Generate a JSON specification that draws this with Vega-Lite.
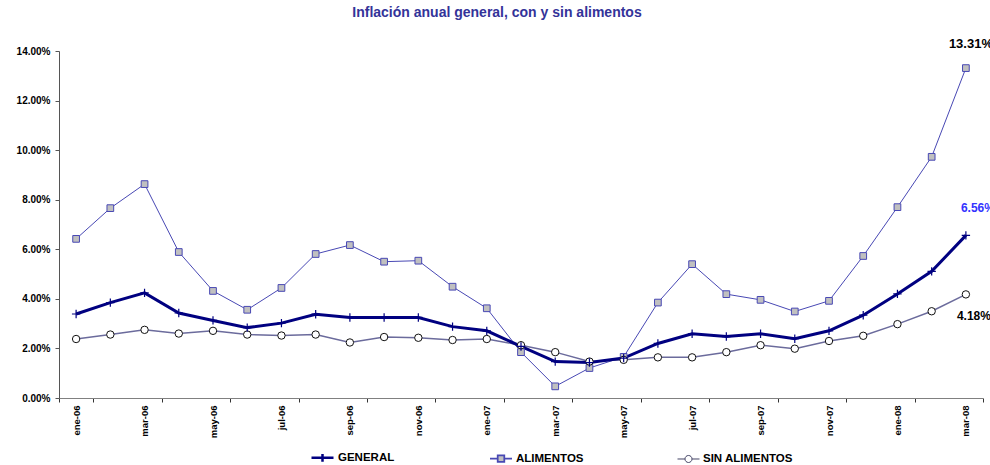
{
  "$schema": "https://vega.github.io/schema/vega-lite/v6.json",
  "autosize": {"type": "none"},
  "width": 924,
  "height": 347,
  "padding": {"left": 59, "top": 51, "right": 7, "bottom": 67},
  "background": "white",
  "title": {
    "text": "Inflación anual general, con y sin alimentos",
    "font": "Liberation Sans",
    "fontSize": 14,
    "fontWeight": "bold",
    "color": "#333399",
    "anchor": "middle",
    "frame": "group",
    "offset": 18,
    "dx": -24
  },
  "config": {
    "view": {"stroke": null},
    "legend": {
      "direction": "horizontal",
      "symbolSize": 484,
      "labelFont": "Liberation Sans",
      "labelFontSize": 11.5,
      "labelFontWeight": "bold",
      "labelColor": "black",
      "columnPadding": 91,
      "labelOffset": 3,
      "padding": 0
    }
  },
  "datasets": {
    "general": [
      {"mes": "ene-06", "valor": 3.39}, {"mes": "feb-06", "valor": 3.85}, {"mes": "mar-06", "valor": 4.24},
      {"mes": "abr-06", "valor": 3.43}, {"mes": "may-06", "valor": 3.13}, {"mes": "jun-06", "valor": 2.84},
      {"mes": "jul-06", "valor": 3.02}, {"mes": "ago-06", "valor": 3.38}, {"mes": "sep-06", "valor": 3.25},
      {"mes": "oct-06", "valor": 3.25}, {"mes": "nov-06", "valor": 3.25}, {"mes": "dic-06", "valor": 2.88},
      {"mes": "ene-07", "valor": 2.71}, {"mes": "feb-07", "valor": 2.08}, {"mes": "mar-07", "valor": 1.47},
      {"mes": "abr-07", "valor": 1.43}, {"mes": "may-07", "valor": 1.61}, {"mes": "jun-07", "valor": 2.20},
      {"mes": "jul-07", "valor": 2.59}, {"mes": "ago-07", "valor": 2.48}, {"mes": "sep-07", "valor": 2.59},
      {"mes": "oct-07", "valor": 2.39}, {"mes": "nov-07", "valor": 2.71}, {"mes": "dic-07", "valor": 3.34},
      {"mes": "ene-08", "valor": 4.20}, {"mes": "feb-08", "valor": 5.11}, {"mes": "mar-08", "valor": 6.56}
    ],
    "alimentos": [
      {"mes": "ene-06", "valor": 6.42}, {"mes": "feb-06", "valor": 7.66}, {"mes": "mar-06", "valor": 8.63},
      {"mes": "abr-06", "valor": 5.89}, {"mes": "may-06", "valor": 4.32}, {"mes": "jun-06", "valor": 3.56},
      {"mes": "jul-06", "valor": 4.44}, {"mes": "ago-06", "valor": 5.81}, {"mes": "sep-06", "valor": 6.17},
      {"mes": "oct-06", "valor": 5.50}, {"mes": "nov-06", "valor": 5.54}, {"mes": "dic-06", "valor": 4.49},
      {"mes": "ene-07", "valor": 3.62}, {"mes": "feb-07", "valor": 1.85}, {"mes": "mar-07", "valor": 0.47},
      {"mes": "abr-07", "valor": 1.21}, {"mes": "may-07", "valor": 1.66}, {"mes": "jun-07", "valor": 3.85},
      {"mes": "jul-07", "valor": 5.40}, {"mes": "ago-07", "valor": 4.19}, {"mes": "sep-07", "valor": 3.96},
      {"mes": "oct-07", "valor": 3.49}, {"mes": "nov-07", "valor": 3.92}, {"mes": "dic-07", "valor": 5.73},
      {"mes": "ene-08", "valor": 7.70}, {"mes": "feb-08", "valor": 9.73}, {"mes": "mar-08", "valor": 13.31}
    ],
    "sin": [
      {"mes": "ene-06", "valor": 2.38}, {"mes": "feb-06", "valor": 2.56}, {"mes": "mar-06", "valor": 2.75},
      {"mes": "abr-06", "valor": 2.60}, {"mes": "may-06", "valor": 2.71}, {"mes": "jun-06", "valor": 2.56},
      {"mes": "jul-06", "valor": 2.52}, {"mes": "ago-06", "valor": 2.56}, {"mes": "sep-06", "valor": 2.24},
      {"mes": "oct-06", "valor": 2.46}, {"mes": "nov-06", "valor": 2.43}, {"mes": "dic-06", "valor": 2.34},
      {"mes": "ene-07", "valor": 2.38}, {"mes": "feb-07", "valor": 2.13}, {"mes": "mar-07", "valor": 1.85},
      {"mes": "abr-07", "valor": 1.47}, {"mes": "may-07", "valor": 1.54}, {"mes": "jun-07", "valor": 1.64},
      {"mes": "jul-07", "valor": 1.64}, {"mes": "ago-07", "valor": 1.85}, {"mes": "sep-07", "valor": 2.13},
      {"mes": "oct-07", "valor": 1.99}, {"mes": "nov-07", "valor": 2.30}, {"mes": "dic-07", "valor": 2.51},
      {"mes": "ene-08", "valor": 2.98}, {"mes": "feb-08", "valor": 3.50}, {"mes": "mar-08", "valor": 4.18}
    ]
  },
  "encoding": {
    "x": {
      "field": "mes",
      "type": "ordinal",
      "scale": {
        "type": "band",
        "paddingInner": 0,
        "paddingOuter": 0,
        "domain": ["ene-06","feb-06","mar-06","abr-06","may-06","jun-06","jul-06","ago-06","sep-06","oct-06","nov-06","dic-06",
                   "ene-07","feb-07","mar-07","abr-07","may-07","jun-07","jul-07","ago-07","sep-07","oct-07","nov-07","dic-07",
                   "ene-08","feb-08","mar-08"]
      },
      "axis": {
        "title": null,
        "values": ["ene-06","mar-06","may-06","jul-06","sep-06","nov-06","ene-07","mar-07","may-07","jul-07","sep-07","nov-07","ene-08","mar-08"],
        "tickBand": "extent",
        "labelAngle": -90,
        "labelFont": "Liberation Sans",
        "labelFontSize": 9.5,
        "labelFontWeight": "bold",
        "labelColor": "black",
        "labelPadding": 3,
        "domainColor": "#808080",
        "tickColor": "#333333",
        "tickSize": 4,
        "grid": false
      }
    },
    "y": {
      "field": "valor",
      "type": "quantitative",
      "scale": {"domain": [0, 14], "nice": false},
      "axis": {
        "title": null,
        "values": [0, 2, 4, 6, 8, 10, 12, 14],
        "labelExpr": "format(datum.value, '.2f') + '%'",
        "labelFont": "Liberation Sans",
        "labelFontSize": 10,
        "labelFontWeight": "bold",
        "labelColor": "black",
        "labelPadding": 5,
        "domainColor": "#555555",
        "tickColor": "#555555",
        "tickSize": 4,
        "grid": false
      }
    }
  },
  "layer": [
    {"data": {"name": "alimentos"}, "mark": {"type": "line", "color": "#4848b4", "strokeWidth": 1}},
    {"data": {"name": "sin"}, "mark": {"type": "line", "color": "#6b6b9c", "strokeWidth": 1.5}},
    {"data": {"name": "general"}, "mark": {"type": "line", "color": "#000080", "strokeWidth": 3}},
    {"data": {"name": "alimentos"}, "mark": {"type": "point", "shape": "square", "size": 45, "filled": true, "fill": "#c0c0c0", "stroke": "#4848b4", "strokeWidth": 1, "opacity": 1}},
    {"data": {"name": "sin"}, "mark": {"type": "point", "shape": "circle", "size": 55, "filled": true, "fill": "white", "stroke": "#111111", "strokeWidth": 1, "opacity": 1}},
    {"data": {"name": "general"}, "mark": {"type": "point", "shape": "M-1,0H1M0,-1V1", "size": 70, "filled": false, "stroke": "#000080", "strokeWidth": 1.2, "opacity": 1}},
    {
      "data": {"values": []},
      "mark": {"type": "point", "filled": true, "opacity": 1},
      "encoding": {
        "shape": {
          "field": "serie", "type": "nominal",
          "scale": {
            "domain": ["GENERAL", "ALIMENTOS", "SIN ALIMENTOS"],
            "range": [
              "M-1,0H1M0,-0.35V0.35",
              "M-1,0H-0.3M0.3,0H1M-0.3,-0.3H0.3V0.3H-0.3Z",
              "M-1,0H-0.32M0.32,0H1M-0.32,0A0.32,0.32 0 1,1 0.32,0A0.32,0.32 0 1,1 -0.32,0Z"
            ]
          },
          "legend": {"title": null, "orient": "none", "legendX": 251, "legendY": 394, "direction": "horizontal"}
        },
        "stroke": {
          "field": "serie", "type": "nominal",
          "scale": {"domain": ["GENERAL", "ALIMENTOS", "SIN ALIMENTOS"], "range": ["#000080", "#4848b4", "#444466"]},
          "legend": {"title": null, "orient": "none", "legendX": 251, "legendY": 394, "direction": "horizontal"}
        },
        "fill": {
          "field": "serie", "type": "nominal",
          "scale": {"domain": ["GENERAL", "ALIMENTOS", "SIN ALIMENTOS"], "range": ["#000080", "#c0c0c0", "#ffffff"]},
          "legend": {"title": null, "orient": "none", "legendX": 251, "legendY": 394, "direction": "horizontal"}
        },
        "strokeWidth": {
          "field": "serie", "type": "nominal",
          "scale": {"domain": ["GENERAL", "ALIMENTOS", "SIN ALIMENTOS"], "range": [2.5, 1, 1]},
          "legend": {"title": null, "orient": "none", "legendX": 251, "legendY": 394, "direction": "horizontal"}
        }
      }
    },
    {
      "data": {"values": [{"mes": "mar-08", "valor": 13.31, "etiqueta": "13.31%"}]},
      "mark": {"type": "text", "align": "left", "baseline": "middle", "dx": -17, "dy": -24, "font": "Liberation Sans", "fontSize": 13, "fontWeight": "bold", "color": "black"},
      "encoding": {"text": {"field": "etiqueta"}}
    },
    {
      "data": {"values": [{"mes": "mar-08", "valor": 6.56, "etiqueta": "6.56%"}]},
      "mark": {"type": "text", "align": "left", "baseline": "middle", "dx": -5, "dy": -27, "font": "Liberation Sans", "fontSize": 12, "fontWeight": "bold", "color": "#3333ff"},
      "encoding": {"text": {"field": "etiqueta"}}
    },
    {
      "data": {"values": [{"mes": "mar-08", "valor": 4.18, "etiqueta": "4.18%"}]},
      "mark": {"type": "text", "align": "left", "baseline": "middle", "dx": -9, "dy": 22, "font": "Liberation Sans", "fontSize": 12, "fontWeight": "bold", "color": "black"},
      "encoding": {"text": {"field": "etiqueta"}}
    }
  ]
}
